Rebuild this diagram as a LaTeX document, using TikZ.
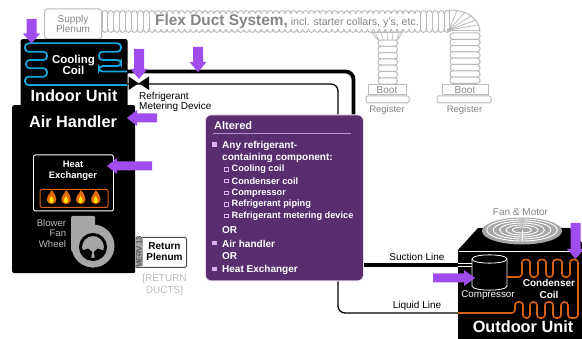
\documentclass[tikz,border=0pt]{standalone}
\usepackage{fontspec}
\setmainfont{Liberation Sans}
\definecolor{arrowpurple}{HTML}{A04DEE}
\definecolor{panelpurple}{HTML}{5A2E6E}
\definecolor{ductgray}{HTML}{BBBBBB}
\definecolor{textgray}{HTML}{858585}
\definecolor{blowergray}{HTML}{A6A6A6}
\definecolor{coilblue}{HTML}{12A5E0}
\definecolor{coilorange}{HTML}{D9600F}
\definecolor{bulletpink}{HTML}{D9B3F0}
\tikzset{
  x=1pt,y=-1pt,
  unitbox/.style={fill=black,rounded corners=2pt,draw=none},
  ductline/.style={draw=ductgray,line width=1pt,fill=white},
  purplearrow/.style={fill=arrowpurple,draw=none},
  graylabel/.style={text=textgray,font=\fontsize{9.5}{10}\selectfont,align=center,inner sep=0pt},
  whitelabel/.style={text=white,font=\fontsize{11.5}{11.5}\selectfont\bfseries,align=center,inner sep=0pt},
  unitlabel/.style={text=white,font=\fontsize{16.3}{17}\selectfont\bfseries,inner sep=0pt},
  blacklabel/.style={text=black,font=\fontsize{10}{10}\selectfont,align=center,inner sep=0pt},
  paneltext/.style={text=white,font=\fontsize{10}{11}\selectfont\bfseries,anchor=west,inner sep=0pt},
  panelsub/.style={text=white,font=\fontsize{9.2}{10}\selectfont\bfseries,anchor=west,inner sep=0pt},
  bigbullet/.style={fill=bulletpink,draw=none},
  smallbullet/.style={draw=bulletpink,line width=.6pt,fill=none},
  rib/.style={draw=ductgray,line width=1pt},
  pill/.style={draw=ductgray,line width=1pt,fill=white,rounded corners=2.8pt},
}
\newcommand{\arrowdown}[3]{% x, tail y, tip y
  \fill[purplearrow] (#1-5,#2) -- (#1+5,#2) -- (#1+5,#3-10) -- (#1+8.5,#3-10) -- (#1,#3) -- (#1-8.5,#3-10) -- (#1-5,#3-10) -- cycle;}
\newcommand{\arrowleft}[3]{% y, tail x, tip x
  \fill[purplearrow] (#2,#1-4.5) -- (#2,#1+4.5) -- (#3+10,#1+4.5) -- (#3+10,#1+8) -- (#3,#1) -- (#3+10,#1-8) -- (#3+10,#1-4.5) -- cycle;}
\newcommand{\arrowright}[3]{% y, tail x, tip x
  \fill[purplearrow] (#2,#1-4.5) -- (#2,#1+4.5) -- (#3-11,#1+4.5) -- (#3-11,#1+8) -- (#3,#1) -- (#3-11,#1-8) -- (#3-11,#1-4.5) -- cycle;}
\newcommand{\flame}[1]{%
  \fill[coilorange!70!orange] (#1,204) .. controls (#1-6,204) and (#1-5,197) .. (#1-3,195) .. controls (#1-2,193) and (#1,192) .. (#1,190) .. controls (#1+3,193) and (#1+5.5,198) .. (#1+4.5,201) .. controls (#1+4,203) and (#1+2,204) .. (#1,204) -- cycle;
  \fill[yellow!85!orange] (#1,203) .. controls (#1-3,203) and (#1-2.5,199) .. (#1,196) .. controls (#1+2.5,199) and (#1+3,203) .. (#1,203) -- cycle;}
\begin{document}
\begin{tikzpicture}
\useasboundingbox (0,0) rectangle (582,339);
\fill[white] (0,0) rectangle (582,339);

% ---- flex duct: main run
\foreach \i in {0,...,58}{
  \pgfmathsetmacro{\xa}{102+\i*5.9}
  \pgfmathsetmacro{\xb}{102+(\i+1)*5.9}
  \draw[rib] (\xa,14) -- (\xa,29);
  \draw[rib] (\xa,14) .. controls (\xa,9.5) and (\xb,9.5) .. (\xb,14);
  \draw[rib] (\xa,29) .. controls (\xa,33.5) and (\xb,33.5) .. (\xb,29);}
% elbow
\fill[white] (449,30) -- (449,10) .. controls (467,10) and (480,18) .. (480,33) -- cycle;
\foreach \a in {90,75,60,45,30,15,0}{\draw[rib,line width=.8pt] (449,30) -- ({449+31*cos(\a)},{30-20*sin(\a)});}
\draw[rib] (449,10) .. controls (467,10) and (480,18) .. (480,33);
\fill[ductgray] (449,30) circle[radius=2.2];
% vertical ducts
\foreach \i in {0,...,7}{\draw[pill] (450,{33+\i*6.3}) rectangle (480,{33+(\i+1)*6.3});}
\foreach \i in {0,...,6}{\draw[pill] (378,{40+\i*6.3}) rectangle (397.5,{40+(\i+1)*6.3});}
\draw[ductline,line width=.9pt] (372,32.5) -- (402,32.5) -- (397.5,40) -- (378,40) -- cycle;
\foreach \i in {0,...,4}{\draw[rib,line width=.6pt] ({375+\i*6},32.5) -- ({379+\i*4.4},40);}
% boots and registers
\node[draw=ductgray,line width=1pt,fill=white,minimum width=38pt,minimum height=10pt,inner sep=0pt,text=textgray,font=\fontsize{10}{9}\selectfont] (bootA) at (387,90) {Boot};
\node[draw=ductgray,line width=1pt,fill=white,rounded corners=1.5pt,minimum width=43pt,minimum height=7pt,inner sep=0pt] (flangeA) at (387.5,99.5) {};
\node[graylabel] (regA) at (387,110) {Register};
\node[draw=ductgray,line width=1pt,fill=white,minimum width=46pt,minimum height=10pt,inner sep=0pt,text=textgray,font=\fontsize{10}{9}\selectfont] (bootB) at (465,90) {Boot};
\node[draw=ductgray,line width=1pt,fill=white,rounded corners=1.5pt,minimum width=54pt,minimum height=7pt,inner sep=0pt] (flangeB) at (464,99.5) {};
\node[graylabel] (regB) at (464.5,110) {Register};
% duct labels
\node[fill=white,anchor=west,inner xsep=1.5pt,inner ysep=0pt,minimum height=13pt,text=textgray] (ductlabel) at (153.5,21.5) {\fontsize{15.4}{15}\selectfont\bfseries Flex Duct System,\fontsize{10.6}{9}\selectfont\mdseries\ incl. starter collars, y's, etc.};
% supply plenum
\node[draw=ductgray,line width=1pt,fill=white,rounded corners=2.5pt,minimum width=57pt,minimum height=30pt,inner sep=0pt,text=textgray,font=\fontsize{10}{10.5}\selectfont,align=center] (supply) at (73,24) {Supply\\Plenum};

% ---- refrigerant lines
\coordinate (coilout) at (127,71.5);
\coordinate (coilin) at (127,84);
\coordinate (sucturn) at (353.5,71.5);
\coordinate (sucdown) at (353.5,265);
\coordinate (sucend) at (460,265);
\coordinate (liqturn) at (338,84);
\coordinate (liqdown) at (338,313);
\coordinate (liqend) at (460,313);
\draw[black,line width=3.8pt,rounded corners=8pt] (coilout) -- (sucturn) -- (sucdown) -- (sucend);
\draw[black,line width=1.3pt,rounded corners=7pt] (coilin) -- (liqturn) -- (liqdown) -- (liqend);

% ---- air handler and indoor unit
\node[unitbox,minimum width=107pt,minimum height=68pt,anchor=north west,inner sep=0pt] (indoor) at (20.5,39) {};
\node[unitbox,minimum width=123pt,minimum height=168pt,anchor=north west,inner sep=0pt] (handler) at (12,105) {};
% cooling coil
\draw[coilblue,line width=1.8pt,rounded corners=3.6pt] (70,43.3) -- (121,43.3) -- (121,51.7) -- (99,51.7) -- (99,60) -- (121,60) -- (121,66) -- (99,66) -- (99,71.5) -- (127,71.5);
\draw[coilblue,line width=1.8pt,rounded corners=3.6pt] (70,43.3) -- (25,43.3) -- (25,51.7) -- (47,51.7) -- (47,60) -- (26,60) -- (26,68.3) -- (47,68.3) -- (47,76.7) -- (25,76.7) -- (25,85) -- (127,85);
\node[whitelabel] (coiltext) at (73.5,65) {Cooling\\Coil};
\node[unitlabel] (indoortext) at (74,95.5) {Indoor Unit};
\node[unitlabel] (handlertext) at (73,122) {Air Handler};
% heat exchanger
\node[draw=white,line width=.9pt,rounded corners=2pt,fill=black,minimum width=80pt,minimum height=56pt,anchor=north west,inner sep=0pt] (hx) at (33,154.5) {};
\node[whitelabel,font=\fontsize{9.4}{10.5}\selectfont\bfseries] (hxtext) at (73,171) {Heat\\Exchanger};
\node[draw=coilorange,line width=1pt,rounded corners=2pt,minimum width=68pt,minimum height=18pt,anchor=north west,inner sep=0pt] (burner) at (39.5,189) {};
\flame{51.5}\flame{66}\flame{80.7}\flame{95.7}
% blower
\fill[blowergray,rounded corners=1.5pt] (71,216) -- (95,216) -- (95,240) -- (71,240) -- cycle;
\fill[blowergray] (71,230) -- (93,230) -- (93,268) -- (71,250) -- cycle;
\fill[blowergray] (93,246) circle[radius=21.5];
\begin{scope}[shift={(93,247)}]
  \draw[black,line width=3pt] (0,0) circle[radius=12.5];
  \fill[black] (18:5) -- (18:12) -- (50:12) -- (80:12) -- (80:5) -- cycle;
  \fill[black] (162:5) -- (162:12) -- (130:12) -- (100:12) -- (100:5) -- cycle;
\end{scope}
\node[graylabel,text=ductgray,align=right,anchor=east,font=\fontsize{9.6}{10.3}\selectfont] (blowertext) at (66.3,233.5) {Blower\\Fan\\Wheel};

% ---- return plenum
\node[draw=black!70,line width=1pt,fill=white,rounded corners=2pt,minimum width=51pt,minimum height=30pt,anchor=north west,inner sep=0pt] (return) at (135,237) {};
\fill[blowergray] (135,237.5) rectangle (143,266.5);
\node[rotate=90,font=\fontsize{7.5}{7}\selectfont,text=black!80,inner sep=0pt] (merv) at (139,252) {MERV 13};
\node[blacklabel,font=\fontsize{10}{11}\selectfont\bfseries] (returntext) at (164.5,252) {Return\\Plenum};
\node[graylabel,text=ductgray,font=\fontsize{10}{12}\selectfont] (returnducts) at (164.5,284.5) {[RETURN\\DUCTS]};

% ---- valve
\coordinate (valve) at (139,83.5);
\fill[black] (128.5,76.5) -- (149,90) -- (149,76.5) -- (128.5,90) -- cycle;
\node[blacklabel,align=left,anchor=north west,font=\fontsize{10}{10.3}\selectfont] (rmd) at (139,92) {Refrigerant\\Metering Device};

% ---- altered panel
\node[draw=white!85!panelpurple,line width=.8pt,fill=panelpurple,rounded corners=6pt,minimum width=158pt,minimum height=166pt,anchor=north west,inner sep=0pt] (panel) at (205,114.5) {};
\node[paneltext,font=\fontsize{11}{11}\selectfont\bfseries] (alt) at (214,125.5) {Altered};
\draw[bulletpink!75!panelpurple,line width=.8pt] (213,133.5) -- (351,133.5);
\fill[bigbullet] (211.5,142.5) rectangle (216.5,147);
\node[paneltext,anchor=north west,align=left,font=\fontsize{10}{11.7}\selectfont\bfseries] (anyref) at (222,141) {Any refrigerant-\\containing component:};
\foreach \y/\t in {169.5/Cooling coil,181/Condenser coil,193/Compressor,204.5/Refrigerant piping,216/Refrigerant metering device}{
  \draw[smallbullet] (224,{\y-1.7}) rectangle (228,{\y+1.7});
  \node[panelsub] at (231.5,\y) {\t};}
\node[paneltext] (or1) at (222,230) {OR};
\fill[bigbullet] (211.5,241) rectangle (216.5,245.5);
\node[paneltext] (airh) at (222,243.5) {Air handler};
\node[paneltext] (or2) at (222,256.5) {OR};
\fill[bigbullet] (211.5,267) rectangle (216.5,271.5);
\node[paneltext] (heat) at (222,270) {Heat Exchanger};

% ---- line labels
\node[blacklabel] (suction) at (417,257) {Suction Line};
\node[blacklabel] (liquid) at (417,306) {Liquid Line};

% ---- outdoor unit
\fill[black] (458,339) -- (458,250) -- (478,228) -- (570,228) -- (582,243) -- (582,339) -- cycle;
\draw[white,line width=.7pt] (459,251) -- (582,251);
\node[graylabel,font=\fontsize{10}{10}\selectfont] (fantext) at (520.5,212) {Fan \& Motor};
\fill[blowergray] (522,231) ellipse[x radius=40,y radius=13.5];
\foreach \r in {.88,.72,.56,.40,.24}{\draw[white,line width=.9pt] (522,230) ellipse[x radius={40*\r},y radius={12.5*\r}];}
\draw[white,line width=.9pt] (522,230) -- (522,241);
% compressor
\fill[white] (458,263) rectangle (472,267.5);
\draw[black,line width=1.6pt] (458,265.2) -- (472,265.2);
\draw[white,line width=.8pt,fill=black] (472,259) -- (472,286) .. controls (472,291.5) and (507,291.5) .. (507,286) -- (507,259) .. controls (507,253.5) and (472,253.5) .. (472,259) -- cycle;
\draw[white,line width=.8pt] (472,259) .. controls (472,264.5) and (507,264.5) .. (507,259);
\node[blacklabel,text=white,font=\fontsize{9.8}{10}\selectfont] (comptext) at (488,295.5) {Compressor};
% condenser coil
\draw[coilorange,line width=1.6pt,rounded corners=3.2pt] (507,277) -- (522,277) -- (522,259.5) -- (530,259.5) -- (530,277) -- (538,277) -- (538,259.5) -- (546,259.5) -- (546,277) -- (553,277) -- (553,259.5) -- (562,259.5) -- (562,277) -- (570,277) -- (570,259.5) -- (578,259.5) -- (578,318) -- (568,318) -- (568,302) -- (561,302) -- (561,318) -- (553,318) -- (553,302) -- (545,302) -- (545,318) -- (537,318) -- (537,302) -- (530,302) -- (530,318) -- (523,318) -- (523,302) -- (515,302) -- (515,313) -- (458,313);
\node[blacklabel,text=white,font=\fontsize{10}{12}\selectfont\bfseries] (condtext) at (549,289) {Condenser\\Coil};
\node[unitlabel] (outdoortext) at (523,327) {Outdoor Unit};

% ---- purple arrows
\arrowdown{31.5}{19}{43.5}
\arrowdown{139}{49}{79}
\arrowdown{198}{47}{72}
\arrowdown{575.5}{223}{259}
\arrowleft{118}{157}{127}
\arrowleft{166}{152}{107}
\arrowright{278}{433}{475}
\end{tikzpicture}
\end{document}
